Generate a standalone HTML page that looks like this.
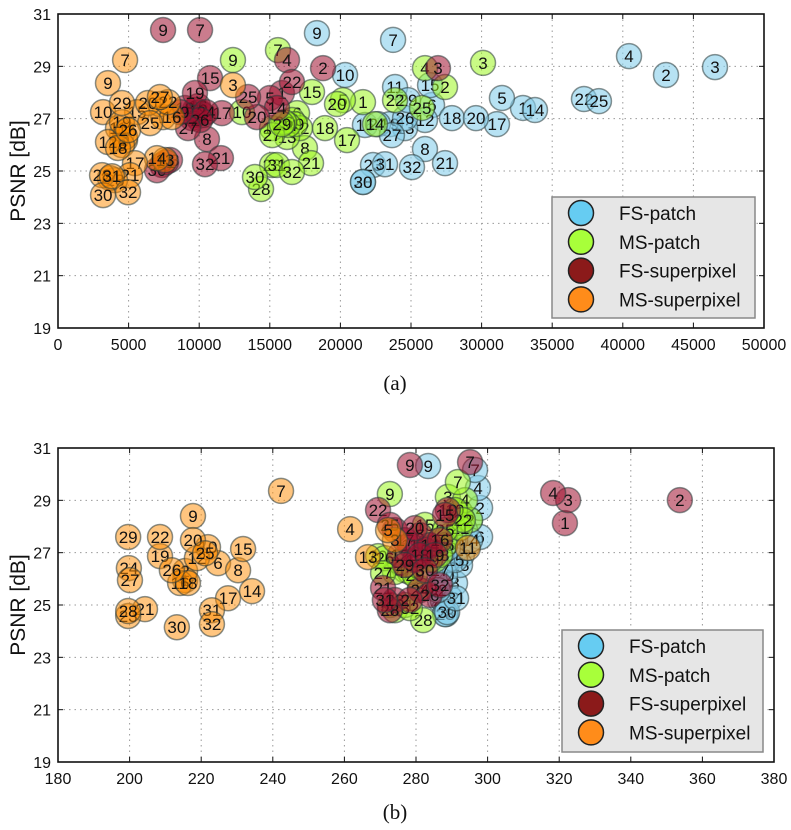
<!DOCTYPE html>
<html><head><meta charset="utf-8"><style>
html,body{margin:0;padding:0;background:#fff;}
svg{display:block;font-family:"Liberation Sans",sans-serif;}
</style></head><body>
<svg id="fig" width="791" height="830" viewBox="0 0 791 830" xmlns="http://www.w3.org/2000/svg"></svg>
<script>
const labels=[1,2,3,4,5,6,7,8,9,10,11,12,13,14,15,16,17,18,19,20,21,22,23,24,25,26,27,28,29,30,31,32];
const seriesNames=["FS-patch","MS-patch","FS-superpixel","MS-superpixel"];
const xTicksA=[0,5000,10000,15000,20000,25000,30000,35000,40000,45000,50000];
const xTicksB=[180,200,220,240,260,280,300,320,340,360,380];
const yTicks=[19,21,23,25,27,29,31];
// chart (a): x = time
const aFSpX=[32930,43060,46530,40440,31440,26490,23730,25990,18340,20330,23870,25990,24580,33780,26350,21740,31090,27900,23510,29600,27410,37250,22310,22660,38310,24580,23650,21600,24790,21600,23160,25070];
const aFSpY=[27.41,28.67,28.97,29.39,27.79,27.52,30.01,25.84,30.27,28.67,28.21,26.95,26.64,27.33,28.28,26.76,26.79,27.02,26.79,27.02,25.30,27.75,25.23,26.79,27.67,27.02,26.37,24.58,27.71,24.58,25.26,25.15];
const aMSpX=[21600,27410,30100,25990,20180,16930,15580,17490,12390,13030,16570,17140,16220,22450,17990,15160,20470,18910,16780,19760,17920,23870,15160,16290,25780,16010,15160,14380,15860,13950,15510,16570];
const aMSpY=[27.63,28.21,29.13,28.93,27.71,27.21,29.62,25.88,29.24,27.25,26.95,26.64,26.30,26.79,28.02,26.64,26.18,26.64,26.79,27.56,25.30,27.71,25.23,26.76,27.41,26.87,26.37,24.31,26.79,24.77,25.23,24.96];
const aFSsX=[15860,18770,26910,16220,15010,9700,10060,10550,7440,9700,10060,10270,9490,15510,10770,9920,11610,8990,9700,14090,11540,16570,7930,10480,13460,10060,9210,7370,8640,7010,7650,10410];
const aFSsY=[27.98,28.93,28.93,29.24,27.79,27.33,30.39,26.22,30.39,27.14,27.25,27.14,27.02,27.41,28.55,27.48,27.21,27.41,27.98,27.06,25.49,28.40,25.42,27.25,27.83,26.95,26.64,25.23,27.25,25.03,25.34,25.26];
const aMSsX=[7440,7220,12390,4750,4530,4750,4750,4530,3540,3190,4250,3540,7580,7010,5600,8070,5450,4250,4530,6370,5100,7790,4040,3680,6520,4960,7220,3120,4530,3190,3820,4960];
const aMSsY=[27.06,27.56,28.28,26.18,26.45,26.30,29.24,25.99,28.36,27.25,26.64,26.11,25.42,25.49,27.25,27.06,25.30,25.88,26.87,27.60,24.84,27.63,24.65,24.73,26.83,26.56,27.83,24.84,27.60,24.08,24.80,24.19];
// chart (b)
const bFSpX=[295.1,297.9,294.5,297.3,291.7,297.9,296.5,290.9,283.4,292.8,293.7,292.8,289.5,295.1,290.9,288.1,286.7,292.3,289.5,288.1,286.7,289.5,287.5,288.9,290.9,288.4,286.7,288.1,288.9,288.7,291.2,286.1];
const bFSpY=[28.25,28.71,27.29,29.47,27.10,27.60,30.16,25.84,30.31,28.32,27.86,26.91,26.72,27.48,27.48,26.91,26.53,26.53,27.10,26.14,25.19,25.26,25.19,26.72,26.72,24.65,26.33,24.65,27.18,24.73,25.26,25.57];
const bMSpX=[292.3,295.1,288.9,293.7,276.9,289.5,291.7,281.1,272.7,290.9,286.7,283.9,278.3,274.1,282.5,288.1,285.3,286.7,283.9,269.4,292.3,293.1,272.7,275.5,288.1,271.3,270.8,282.0,279.7,274.1,276.9,278.3];
const bMSpY=[28.55,28.25,29.13,29.01,26.33,27.67,29.70,25.65,29.24,28.63,27.48,27.18,26.26,26.26,28.06,27.29,26.72,26.91,26.72,26.87,27.94,28.25,25.00,26.64,27.86,26.79,26.22,24.42,26.14,24.80,25.00,24.88];
const bFSsX=[321.6,353.7,322.5,318.3,274.1,281.1,295.1,282.5,278.3,288.9,278.3,275.5,279.7,283.9,288.1,286.7,276.9,281.1,285.3,279.7,270.8,269.4,274.1,281.1,272.7,283.9,278.3,272.7,276.9,282.5,271.3,286.7];
const bFSsY=[28.13,29.01,29.01,29.28,27.86,27.67,30.46,27.10,30.35,28.63,27.29,26.91,26.72,27.29,28.44,27.48,27.48,26.91,26.91,27.94,25.65,28.63,25.19,25.57,28.06,25.38,25.19,24.80,26.53,26.33,25.19,25.76];
const bMSsX=[215.5,215.5,274.1,261.6,272.2,224.7,242.3,230.3,217.7,221.9,294.5,218.8,266.6,234.2,231.7,214.1,227.5,216.3,208.5,217.7,204.3,208.5,199.6,199.8,221.1,211.8,200.1,199.6,199.6,213.2,223.0,223.0];
const bMSsY=[25.95,26.30,27.48,27.90,27.86,26.60,29.36,26.33,28.40,27.21,27.18,26.79,26.83,25.53,27.14,25.84,25.26,25.84,26.87,27.48,24.84,27.60,24.58,26.41,26.98,26.33,25.95,24.77,27.60,24.15,24.80,24.27];

const NS="http://www.w3.org/2000/svg";
const svg=document.getElementById('fig');
const fills=[["#87ceeb",0.6],["#9cf520",0.55],["#a01030",0.55],["#ff8c00",0.5]];
const legendFills=["#66ccf2","#a8ff3a","#8b1a1a","#ff8c1a"];
function mk(tag,attrs,parent){const e=document.createElementNS(NS,tag);for(const k in attrs)e.setAttribute(k,attrs[k]);(parent||svg).appendChild(e);return e;}

function chart(id,L,R,T,B,xmin,xmax,xTicks,series,leg,caption,capY){
  const g=mk('g',{});
  
  
  const sx=v=>L+(v-xmin)/(xmax-xmin)*(R-L);
  const sy=v=>B-(v-19)/12*(B-T);
  const grid=mk('g',{},g);
  
  
  xTicks.forEach(t=>{const x=sx(t);mk('line',{x1:x,x2:x,y1:T,y2:B,stroke:'#999','stroke-width':1,'stroke-dasharray':'1.5,4'},grid);});
  yTicks.forEach(t=>{const y=sy(t);mk('line',{x1:L,x2:R,y1:y,y2:y,stroke:'#999','stroke-width':1,'stroke-dasharray':'1.5,4'},grid);});
  series.forEach((s,si)=>{
    const sg=mk('g',{},g);
    
    
    s[0].forEach((xv,i)=>{
      const cx=sx(xv),cy=sy(s[1][i]);
      const c=mk('circle',{cx:cx,cy:cy,r:12.5,fill:fills[si][0],'fill-opacity':fills[si][1],stroke:'#2a3a3a','stroke-opacity':0.55,'stroke-width':1.5},sg);
      
      
      const t=mk('text',{x:cx,y:cy+6,'text-anchor':'middle','font-size':17,fill:'#111'},sg);
      
      
      t.textContent=labels[i];
    });
  });
  const fr=mk('rect',{x:L,y:T,width:R-L,height:B-T,fill:'none',stroke:'#111','stroke-width':1.6},g);
  
  
  xTicks.forEach(t=>{const x=sx(t);
    mk('line',{x1:x,x2:x,y1:B,y2:B-5,stroke:'#111'},g);mk('line',{x1:x,x2:x,y1:T,y2:T+5,stroke:'#111'},g);
    const tx=mk('text',{x:x,y:B+22,'text-anchor':'middle','font-size':16,fill:'#111'},g);
    
    
    tx.textContent=t;});
  yTicks.forEach(t=>{const y=sy(t);
    mk('line',{x1:L,x2:L+5,y1:y,y2:y,stroke:'#111'},g);mk('line',{x1:R,x2:R-5,y1:y,y2:y,stroke:'#111'},g);
    const ty=mk('text',{x:L-7,y:y+6,'text-anchor':'end','font-size':16,fill:'#111'},g);
    
    
    ty.textContent=t;});
  const yl=mk('text',{x:0,y:0,transform:`translate(25,${(T+B)/2}) rotate(-90)`,'text-anchor':'middle','font-size':21,fill:'#111'},g);
  
  
  yl.textContent='PSNR [dB]';
  const lg=mk('g',{},g);
  
  
  mk('rect',{x:leg.x,y:leg.y,width:leg.w,height:leg.h,fill:'#e6e6e6',stroke:'#888','stroke-width':1.5},lg);
  seriesNames.forEach((n,i)=>{const yy=leg.y+16+i*28.8;
    const c=mk('circle',{cx:leg.x+29,cy:yy,rx:12,r:12.5,fill:legendFills[i],stroke:'#222','stroke-width':1.5},lg);
    
    
    const t=mk('text',{x:leg.x+67,y:yy+7,'font-size':19,fill:'#111'},lg);
    
    
    t.textContent=n;});
  const cap=mk('text',{x:395,y:capY,'text-anchor':'middle','font-size':21,'font-family':'"Liberation Serif",serif',fill:'#111'},g);
  
  
  cap.textContent=caption;
}
chart('chart-a',58,764,14,328,0,50000,xTicksA,[[aFSpX,aFSpY],[aMSpX,aMSpY],[aFSsX,aFSsY],[aMSsX,aMSsY]],{x:552,y:197,w:203,h:121},'(a)',390);
chart('chart-b',58,774,448,762,180,380,xTicksB,[[bFSpX,bFSpY],[bMSpX,bMSpY],[bFSsX,bFSsY],[bMSsX,bMSsY]],{x:562,y:630,w:201,h:122},'(b)',819);
</script>
</body></html>
